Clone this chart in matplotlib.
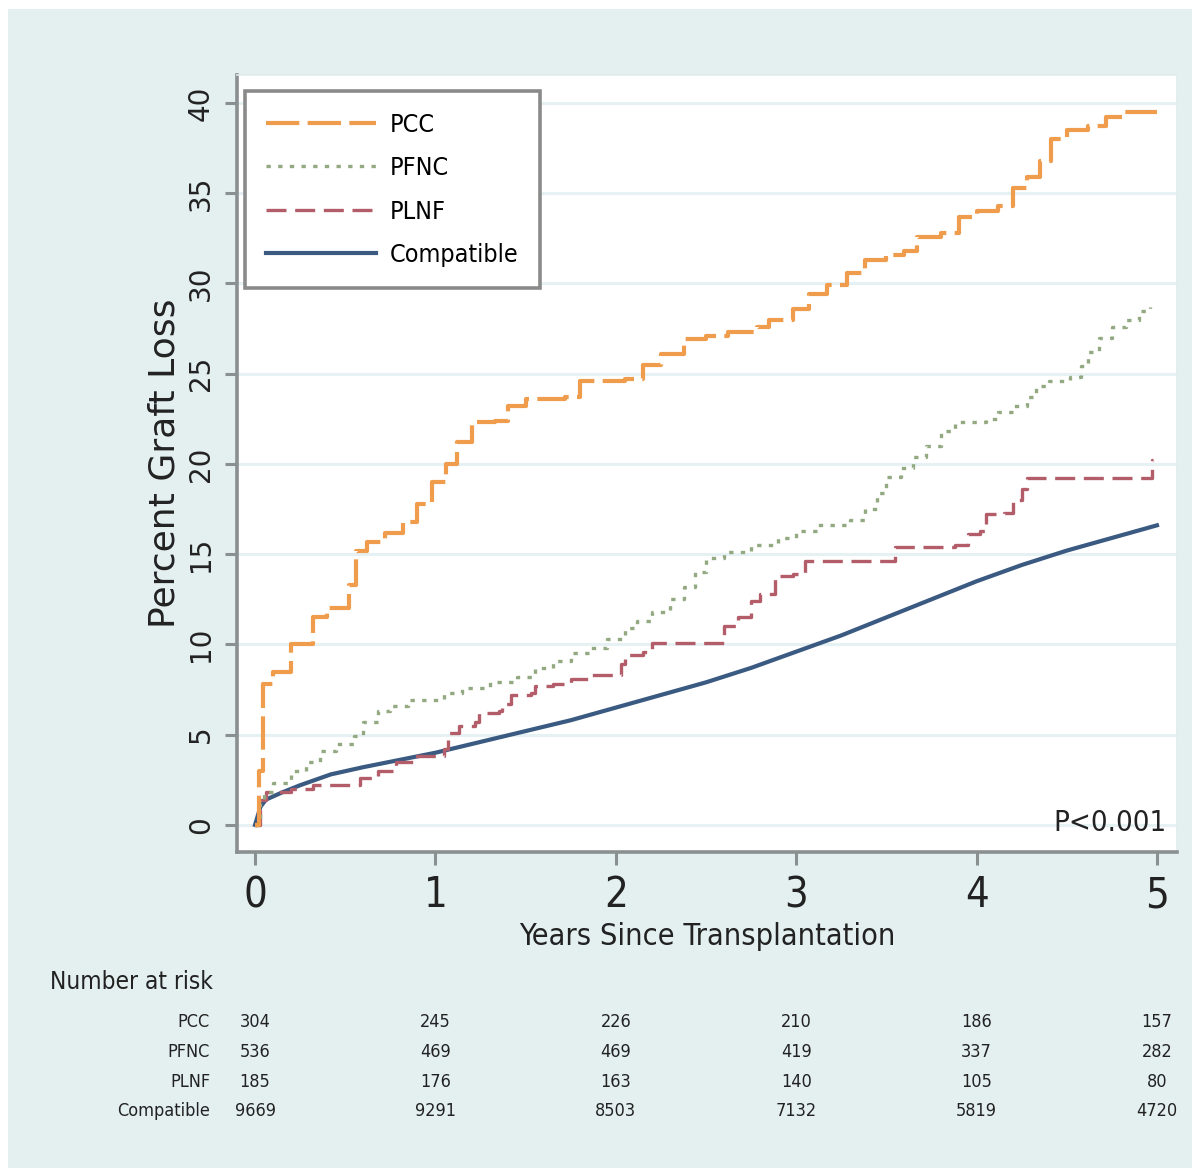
import matplotlib
matplotlib.use("Agg")
import matplotlib.pyplot as plt
from matplotlib.patches import Rectangle
from matplotlib.transforms import blended_transform_factory

NARROW = ['DejaVu Sans']
STRETCH = 'condensed'
WIDE = ['DejaVu Sans']

# Kaplan-Meier curves (years, percent graft loss)
pcc_t = [0, 0.02, 0.045, 0.1, 0.2, 0.32, 0.4, 0.52, 0.56, 0.62, 0.72, 0.82, 0.9, 0.98, 1.06, 1.12,
         1.2, 1.33, 1.4, 1.5, 1.72, 1.8, 2.05, 2.15, 2.25, 2.38, 2.5, 2.62, 2.78, 2.85, 2.98, 3.07,
         3.17, 3.28, 3.38, 3.5, 3.6, 3.67, 3.8, 3.9, 4.0, 4.12, 4.2, 4.28, 4.35, 4.41, 4.5, 4.62,
         4.72, 4.82, 5.0]
pcc_v = [0, 3.0, 7.8, 8.5, 10.0, 11.5, 12.0, 13.3, 15.2, 15.7, 16.2, 16.8, 17.8, 19.0, 20.0, 21.2,
         22.3, 22.4, 23.2, 23.6, 23.7, 24.6, 24.7, 25.5, 26.1, 26.9, 27.1, 27.3, 27.6, 28.0, 28.6, 29.4,
         29.9, 30.6, 31.3, 31.6, 31.8, 32.6, 32.8, 33.7, 34.0, 34.3, 35.3, 35.9, 36.8, 38.0, 38.5, 38.7,
         39.2, 39.5, 39.5]

pfnc_t = [0, 0.03, 0.05, 0.1, 0.2, 0.28, 0.36, 0.45, 0.55, 0.6, 0.68, 0.75, 0.85, 1.05, 1.15, 1.3,
          1.45, 1.55, 1.65, 1.75, 1.85, 1.95, 2.05, 2.12, 2.2, 2.3, 2.38, 2.44, 2.5, 2.6, 2.75, 2.9,
          3.0, 3.12, 3.3, 3.38, 3.45, 3.5, 3.58, 3.65, 3.72, 3.8, 3.88, 4.05, 4.12, 4.2, 4.28, 4.33,
          4.4, 4.52, 4.58, 4.62, 4.68, 4.75, 4.83, 4.9, 4.96]
pfnc_v = [0, 1.2, 1.8, 2.3, 3.0, 3.5, 4.1, 4.5, 4.9, 5.7, 6.3, 6.6, 6.9, 7.3, 7.6, 7.9,
          8.2, 8.7, 9.1, 9.5, 9.8, 10.3, 10.9, 11.3, 11.8, 12.5, 13.2, 14.0, 14.8, 15.1, 15.5, 15.9,
          16.3, 16.6, 16.9, 17.5, 18.4, 19.3, 19.8, 20.4, 21.0, 21.8, 22.3, 22.5, 22.9, 23.2, 23.7, 24.3,
          24.6, 24.8, 25.4, 26.2, 27.0, 27.6, 28.0, 28.5, 28.7]

plnf_t = [0, 0.03, 0.06, 0.2, 0.32, 0.55, 0.58, 0.68, 0.78, 0.9, 1.05, 1.07, 1.13, 1.22, 1.24, 1.35,
          1.37, 1.42, 1.53, 1.55, 1.65, 1.75, 1.85, 2.03, 2.05, 2.15, 2.2, 2.55, 2.6, 2.68, 2.75, 2.8,
          2.88, 2.98, 3.05, 3.5, 3.55, 3.88, 3.95, 4.02, 4.05, 4.15, 4.2, 4.25, 4.28, 4.95, 4.97, 4.98]
plnf_v = [0, 1.4, 1.8, 2.0, 2.2, 2.2, 2.6, 3.0, 3.5, 3.8, 4.2, 5.1, 5.5, 5.7, 6.2, 6.3,
          6.7, 7.2, 7.3, 7.7, 7.8, 8.1, 8.3, 8.9, 9.4, 9.6, 10.1, 10.1, 11.0, 11.5, 12.4, 12.8,
          13.8, 13.9, 14.6, 14.6, 15.4, 15.5, 16.1, 16.3, 17.2, 17.3, 18.0, 18.6, 19.2, 19.2, 20.2, 20.2]

comp_t = [0, 0.03, 0.06, 0.15, 0.25, 0.42, 0.6, 0.8, 1.0, 1.25, 1.5, 1.75, 2.0, 2.25, 2.5, 2.75,
          3.0, 3.25, 3.5, 3.75, 4.0, 4.25, 4.5, 4.75, 5.0]
comp_v = [0, 1.0, 1.4, 1.8, 2.2, 2.8, 3.2, 3.6, 4.0, 4.6, 5.2, 5.8, 6.5, 7.2, 7.9, 8.7,
          9.6, 10.5, 11.5, 12.5, 13.5, 14.4, 15.2, 15.9, 16.6]

# number at risk table
risk_times = [0, 1, 2, 3, 4, 5]
risk_groups = ['PCC', 'PFNC', 'PLNF', 'Compatible']
risk_pcc = [304, 245, 226, 210, 186, 157]
risk_pfnc = [536, 469, 469, 419, 337, 282]
risk_plnf = [185, 176, 163, 140, 105, 80]
risk_comp = [9669, 9291, 8503, 7132, 5819, 4720]

x_ticks = [0, 1, 2, 3, 4, 5]
y_ticks = [0, 5, 10, 15, 20, 25, 30, 35, 40]


def main():
    fig = plt.figure(figsize=(11.92, 11.68), dpi=100, facecolor='white')
    fig.patches.append(Rectangle((8 / 1192, 0), 1, 1 - 9 / 1168, transform=fig.transFigure,
                                 facecolor='#e4f0f0', edgecolor='none', zorder=-10))

    ax = fig.add_axes([237 / 1192, 1 - 852 / 1168, 940 / 1192, 777 / 1168])
    ax.set_facecolor('white')

    ax.plot(comp_t, comp_v, color='#3a5a82', lw=3.0, label='Compatible', zorder=3)
    ax.plot(plnf_t, plnf_v, color='#b35d6a', lw=2.4, ls=(0, (6, 2.6)), drawstyle='steps-post',
            label='PLNF', zorder=4)
    ax.plot(pfnc_t, pfnc_v, color='#93a982', lw=2.4, ls=(0, (1.3, 2.2)), drawstyle='steps-post',
            label='PFNC', zorder=4)
    ax.plot(pcc_t, pcc_v, color='#ef9c4c', lw=3.0, ls=(0, (8, 2)), drawstyle='steps-post',
            label='PCC', zorder=5)

    ax.set_xlim(-0.1, 5.111)
    ax.set_ylim(-1.5, 41.55)
    ax.set_xticks(x_ticks)
    ax.set_yticks(y_ticks)
    ax.set_xticklabels([str(v) for v in x_ticks], family=NARROW, stretch=STRETCH, fontsize=30,
                       color='#222222')
    ax.set_yticklabels([str(v) for v in y_ticks], family=WIDE, fontsize=20, color='#222222',
                       rotation=90, va='center')
    ax.tick_params(axis='both', length=9, width=2.2, color='#8a8f90', pad=7)
    ax.grid(axis='y', color='#e6f1f3', lw=2.2)
    ax.set_axisbelow(True)

    for s in ('left', 'bottom'):
        ax.spines[s].set_color('#8a8f90')
        ax.spines[s].set_linewidth(2.6)
    for s in ('top', 'right'):
        ax.spines[s].set_color('#e2ecec')
        ax.spines[s].set_linewidth(1.2)

    ax.set_xlabel('Years Since Transplantation', family=NARROW, stretch=STRETCH, fontsize=22,
                  color='#222222', labelpad=4)
    ax.set_ylabel('Percent Graft Loss', family=WIDE, fontsize=26, color='#222222', labelpad=4)

    handles, labels = ax.get_legend_handles_labels()
    leg = ax.legend(handles[::-1], labels[::-1], loc='upper left', bbox_to_anchor=(0.0085, 0.979),
                    borderaxespad=0, prop={'family': NARROW, 'stretch': STRETCH, 'size': 18},
                    handlelength=4.4, handletextpad=0.55, labelspacing=0.78, borderpad=0.85,
                    fancybox=False, framealpha=1, edgecolor='#8a8a8a')
    leg.get_frame().set_linewidth(2.6)

    ax.text(0.989, 0.037, 'P<0.001', transform=ax.transAxes, ha='right', va='center',
            family=NARROW, stretch=STRETCH, fontsize=21, color='#222222')

    # number at risk
    fig.text(50 / 1192, 1 - 982 / 1168, 'Number at risk', ha='left', va='center',
             family=NARROW, stretch=STRETCH, fontsize=17.5, color='#222222')
    trans = blended_transform_factory(ax.transData, fig.transFigure)
    rows = [risk_pcc, risk_pfnc, risk_plnf, risk_comp]
    row_y = [1022, 1052, 1082, 1111]
    for name, vals, yp in zip(risk_groups, rows, row_y):
        yf = 1 - yp / 1168
        fig.text(210 / 1192, yf, name, ha='right', va='center', family=NARROW, stretch=STRETCH,
                 fontsize=13, color='#222222')
        for t, v in zip(risk_times, vals):
            ax.text(t, yf, str(v), transform=trans, ha='center', va='center', family=NARROW,
                    stretch=STRETCH, fontsize=13, color='#222222', clip_on=False)

    fig.savefig('out.png', dpi=100, facecolor=fig.get_facecolor())


if __name__ == "__main__":
    main()
